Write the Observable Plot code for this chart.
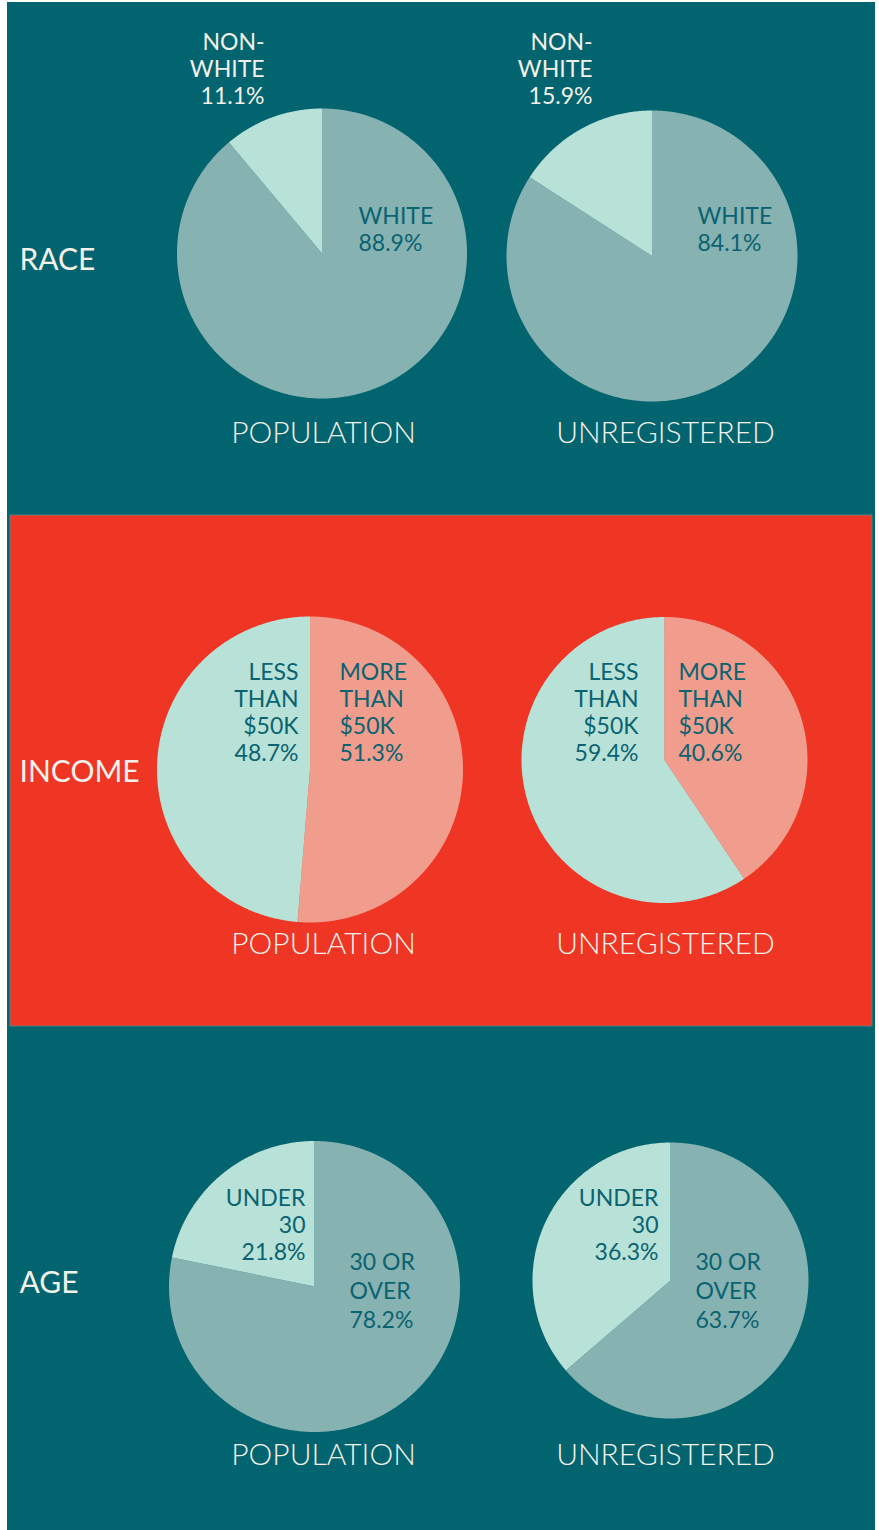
<!DOCTYPE html>
<html><head><meta charset="utf-8">
<script src="https://cdn.jsdelivr.net/npm/d3@7"></script>
<script src="https://cdn.jsdelivr.net/npm/@observablehq/plot@0.6"></script>
<style>body{margin:0;background:#fff}#chart svg{display:block}</style>
</head><body><div id="chart"></div>
<script>
// ---- data ----
const sections = ["RACE", "INCOME", "AGE"];
const groups = ["POPULATION", "UNREGISTERED"];
const raceCategories = ["WHITE", "NON-\nWHITE"];
const racePopulation = [88.9, 11.1];
const raceUnregistered = [84.1, 15.9];
const incomeCategories = ["MORE\nTHAN\n$50K", "LESS\nTHAN\n$50K"];
const incomePopulation = [51.3, 48.7];
const incomeUnregistered = [40.6, 59.4];
const ageCategories = ["30 OR\nOVER", "UNDER\n30"];
const agePopulation = [78.2, 21.8];
const ageUnregistered = [63.7, 36.3];

// ---- styles / layout ----
const TEAL = "#02646f", RED = "#ef3524", MINT = "#b8e1d7", GREYTEAL = "#87b2b2",
      SALMON = "#f09d8d", DARK = "#0a6370", WHITE = "#f3f1ea";
const FONT = "Lato, 'Open Sans', sans-serif";

const sectionData = [
  {cats: raceCategories, vals: [racePopulation, raceUnregistered], colors: [GREYTEAL, MINT], titleY: 259, groupY: 433},
  {cats: incomeCategories, vals: [incomePopulation, incomeUnregistered], colors: [SALMON, MINT], titleY: 771, groupY: 944},
  {cats: ageCategories, vals: [agePopulation, ageUnregistered], colors: [GREYTEAL, MINT], titleY: 1282, groupY: 1455}
];
const groupX = [323, 665];
// pie geometry and label placement [section][group]
const pieLayout = [
  [{cx: 321.5, cy: 253, r: 145, lab: [{x: 358, y: 216, a: "start", c: DARK, lh: 27}, {x: 264, y: 42, a: "end", c: WHITE, lh: 27}]},
   {cx: 651.5, cy: 255.5, r: 145.5, lab: [{x: 697, y: 216, a: "start", c: DARK, lh: 27}, {x: 592, y: 42, a: "end", c: WHITE, lh: 27}]}],
  [{cx: 309.5, cy: 769, r: 153, lab: [{x: 339, y: 672, a: "start", c: DARK, lh: 27}, {x: 298, y: 672, a: "end", c: DARK, lh: 27}]},
   {cx: 664, cy: 759.5, r: 143, lab: [{x: 678, y: 672, a: "start", c: DARK, lh: 27}, {x: 638, y: 672, a: "end", c: DARK, lh: 27}]}],
  [{cx: 314, cy: 1286, r: 145.5, lab: [{x: 349, y: 1260, a: "start", c: DARK, lh: 29}, {x: 305, y: 1198, a: "end", c: DARK, lh: 27}]},
   {cx: 670, cy: 1280, r: 138, lab: [{x: 695, y: 1260, a: "start", c: DARK, lh: 29}, {x: 658, y: 1198, a: "end", c: DARK, lh: 27}]}]
];

// ---- build tables ----
const slicePts = [];
const labels = [];
sectionData.forEach((s, si) => {
  s.vals.forEach((vals, gi) => {
    const L = pieLayout[si][gi];
    const total = d3.sum(vals);
    let a0 = 0;
    vals.forEach((v, ci) => {
      const a1 = a0 + v / total * 2 * Math.PI;
      const id = `${si}-${gi}-${ci}`;
      slicePts.push({id, x: L.cx, y: L.cy, fill: s.colors[ci]});
      const n = Math.max(2, Math.ceil((a1 - a0) / (Math.PI / 360)));
      for (let k = 0; k <= n; k++) {
        const t = a0 + (a1 - a0) * k / n;
        slicePts.push({id, x: L.cx + L.r * Math.sin(t), y: L.cy - L.r * Math.cos(t), fill: s.colors[ci]});
      }
      const lp = L.lab[ci];
      labels.push({x: lp.x, y: lp.y, anchor: lp.a, lh: lp.lh, color: lp.c,
                   text: s.cats[ci] + "\n" + v.toFixed(1) + "%"});
      a0 = a1;
    });
  });
});
const sectionTitles = sections.map((t, i) => ({text: t, x: 19, y: sectionData[i].titleY}));
const groupTitles = sections.flatMap((t, i) => groups.map((g, gi) => ({text: g, x: groupX[gi], y: sectionData[i].groupY})));

const FS = 23;
function labelMark(anchor, lh) {
  const d = labels.filter(l => l.anchor === anchor && l.lh === lh)
                  .map(l => ({...l, y: l.y - 0.36 * FS - 3}));
  return Plot.text(d, {x: "x", y: "y", text: "text", fill: "color", textAnchor: anchor,
    lineAnchor: "top", lineHeight: lh / FS, fontSize: FS, fontFamily: FONT});
}

const chart = Plot.plot({
  width: 879, height: 1530, margin: 0,
  x: {type: "identity", axis: null},
  y: {type: "identity", axis: null},
  style: {background: "#ffffff"},
  marks: [
    Plot.rect([{x1: 7, x2: 875, y1: 2, y2: 1530}], {x1: "x1", x2: "x2", y1: "y1", y2: "y2", fill: TEAL}),
    Plot.rect([{x1: 10, x2: 872, y1: 515, y2: 1026}], {x1: "x1", x2: "x2", y1: "y1", y2: "y2", fill: RED, stroke: "#5f8a8c", strokeWidth: 0.8}),
    Plot.line(slicePts, {x: "x", y: "y", z: "id", fill: "fill", stroke: null, curve: "linear"}),
    labelMark("start", 27), labelMark("start", 29), labelMark("end", 27),
    Plot.text(sectionTitles, {x: "x", y: "y", text: "text", textAnchor: "start", lineAnchor: "middle",
      fill: WHITE, fontSize: 30, fontFamily: FONT, dy: 1}),
    Plot.text(groupTitles, {x: "x", y: "y", text: "text", textAnchor: "middle", lineAnchor: "middle",
      fill: WHITE, fontSize: 30, fontWeight: 300, fontFamily: FONT, dy: 0})
  ]
});
document.getElementById("chart").appendChild(chart);
</script>
</body></html>
